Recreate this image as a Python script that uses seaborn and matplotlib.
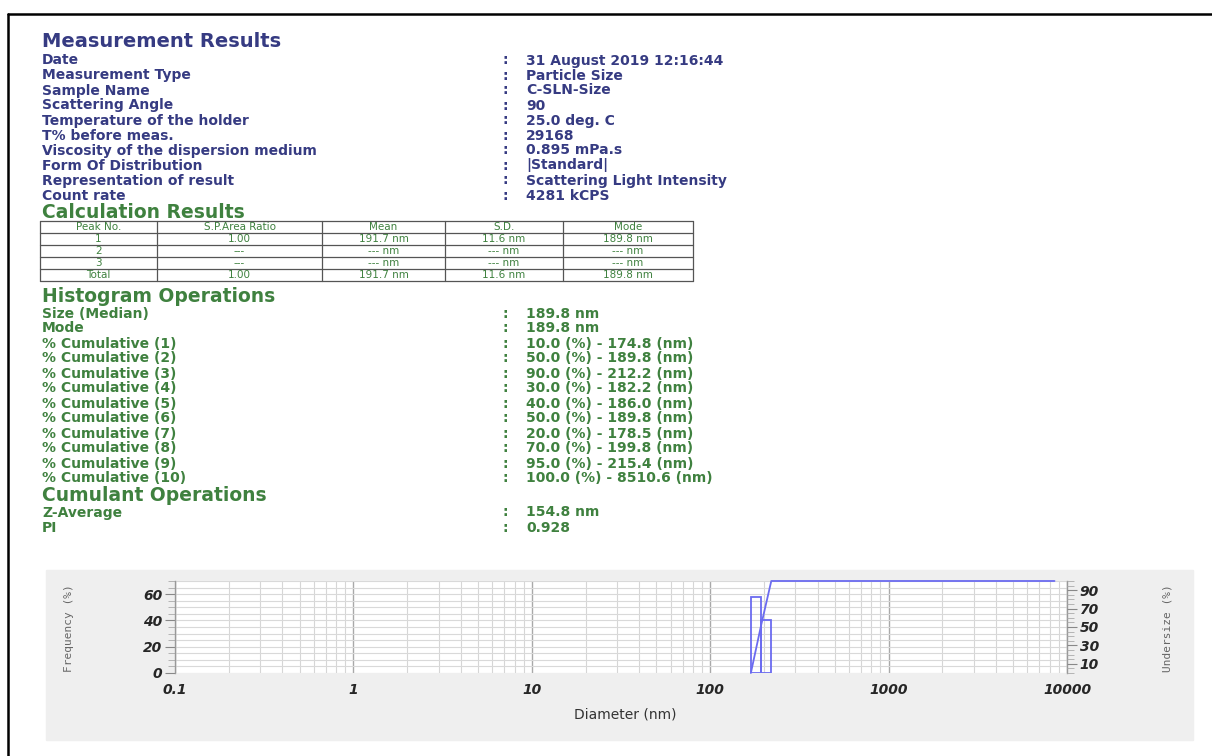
import numpy as np
import matplotlib
matplotlib.use("Agg")
import matplotlib.pyplot as plt
import seaborn as sns
from matplotlib.patches import Rectangle
from matplotlib.ticker import MultipleLocator, FixedLocator, NullFormatter

sns.set_style("white")
plt.rcParams["font.family"] = ["DejaVu Sans"]

NAVY = "#363b82"
GREEN = "#3f813f"
BLUE = "#6b6bf0"

# ---- report text ----
meas_labels = ["Date", "Measurement Type", "Sample Name", "Scattering Angle",
               "Temperature of the holder", "T% before meas.",
               "Viscosity of the dispersion medium", "Form Of Distribution",
               "Representation of result", "Count rate"]
meas_values = ["31 August 2019 12:16:44", "Particle Size", "C-SLN-Size", "90",
               "25.0 deg. C", "29168", "0.895 mPa.s", "|Standard|",
               "Scattering Light Intensity", "4281 kCPS"]

calc_header = ["Peak No.", "S.P.Area Ratio", "Mean", "S.D.", "Mode"]
calc_rows = [["1", "1.00", "191.7 nm", "11.6 nm", "189.8 nm"],
             ["2", "---", "--- nm", "--- nm", "--- nm"],
             ["3", "---", "--- nm", "--- nm", "--- nm"],
             ["Total", "1.00", "191.7 nm", "11.6 nm", "189.8 nm"]]

hist_labels = ["Size (Median)", "Mode", "% Cumulative (1)", "% Cumulative (2)",
               "% Cumulative (3)", "% Cumulative (4)", "% Cumulative (5)",
               "% Cumulative (6)", "% Cumulative (7)", "% Cumulative (8)",
               "% Cumulative (9)", "% Cumulative (10)"]
hist_values = ["189.8 nm", "189.8 nm", "10.0 (%) - 174.8 (nm)",
               "50.0 (%) - 189.8 (nm)", "90.0 (%) - 212.2 (nm)",
               "30.0 (%) - 182.2 (nm)", "40.0 (%) - 186.0 (nm)",
               "50.0 (%) - 189.8 (nm)", "20.0 (%) - 178.5 (nm)",
               "70.0 (%) - 199.8 (nm)", "95.0 (%) - 215.4 (nm)",
               "100.0 (%) - 8510.6 (nm)"]

cumulant_labels = ["Z-Average", "PI"]
cumulant_values = ["154.8 nm", "0.928"]

# ---- distribution ----
bin_edges = [169, 193, 220]
frequency = [58, 40]
cum_diam = [169, 193, 220, 8510.6]
cum_under = [0, 52, 100, 100]

x_ticks = [0.1, 1, 10, 100, 1000, 10000]
x_tick_labels = ["0.1", "1", "10", "100", "1000", "10000"]
freq_ticks = [0, 20, 40, 60]
under_ticks = [10, 30, 50, 70, 90]

W, H = 1212, 756
fig = plt.figure(figsize=(W / 100, H / 100), dpi=100)
fig.patch.set_facecolor("white")

bg = fig.add_axes([0, 0, 1, 1], zorder=0)
bg.set_xlim(0, W)
bg.set_ylim(H, 0)
bg.axis("off")

# frame on top and left
bg.plot([8, W], [14, 14], color="black", lw=1.8)
bg.plot([8, 8], [14, H], color="black", lw=1.8)

LX, CX, VX = 42, 505, 526
lab_kw = dict(fontsize=10, fontweight="bold", va="baseline")
head_kw = dict(fontsize=13.5, fontweight="bold", va="baseline")


def rows(labels, values, y0, color):
    for i, (lab, val) in enumerate(zip(labels, values)):
        y = y0 + 15 * i
        bg.text(LX, y, lab, color=color, **lab_kw)
        bg.text(CX, y, ":", color=color, ha="center", **lab_kw)
        bg.text(VX, y, val, color=color, **lab_kw)


bg.text(LX, 47, "Measurement Results", color=NAVY, fontsize=14,
        fontweight="bold", va="baseline")
rows(meas_labels, meas_values, 64.5, NAVY)

bg.text(LX, 217.5, "Calculation Results", color=GREEN, **head_kw)

# table
col_edges = [40, 157, 322, 445, 563, 693]
row_edges = [221, 233, 245, 257, 269, 281]
for x in col_edges:
    bg.plot([x, x], [row_edges[0], row_edges[-1]], color="#555555", lw=0.9)
for y in row_edges:
    bg.plot([col_edges[0], col_edges[-1]], [y, y], color="#555555", lw=0.9)
for r, row in enumerate([calc_header] + calc_rows):
    yc = (row_edges[r] + row_edges[r + 1]) / 2 + 0.5
    for c, cell in enumerate(row):
        xc = (col_edges[c] + col_edges[c + 1]) / 2
        bg.text(xc, yc, cell, color=GREEN, fontsize=7.5, ha="center",
                va="center")

bg.text(LX, 302, "Histogram Operations", color=GREEN, **head_kw)
rows(hist_labels, hist_values, 317.5, GREEN)

bg.text(LX, 501, "Cumulant Operations", color=GREEN, **head_kw)
rows(cumulant_labels, cumulant_values, 516.5, GREEN)

# chart panel
bg.add_patch(Rectangle((46, 570), 1147, 170, color="#efefef", zorder=0))
bg.text(69, 628, "Frequency (%)", rotation=90, family="DejaVu Sans Mono",
        fontsize=8, color="#666666", ha="center", va="center")
bg.text(1168, 628, "Undersize (%)", rotation=90, family="DejaVu Sans Mono",
        fontsize=8, color="#666666", ha="center", va="center")
bg.text(625, 715, "Diameter (nm)", fontsize=10, color="#333333",
        ha="center", va="center")

left, right, top, bottom = 175, 1067, 581, 673
ax = fig.add_axes([left / W, 1 - bottom / H, (right - left) / W,
                   (bottom - top) / H], zorder=2)
ax.set_facecolor("white")
ax.set_xscale("log")
ax.set_xlim(0.1, 10000)
ax.set_ylim(0, 70)

minors = [m * 10.0 ** e for e in range(-1, 4) for m in range(2, 10)]
ax.xaxis.set_major_locator(FixedLocator(x_ticks))
ax.xaxis.set_minor_locator(FixedLocator(minors))
ax.xaxis.set_minor_formatter(NullFormatter())
ax.set_xticklabels(x_tick_labels, fontweight="bold", fontstyle="italic",
                   fontsize=10)
ax.set_yticks(freq_ticks)
ax.set_yticklabels([str(t) for t in freq_ticks], fontweight="bold",
                   fontstyle="italic", fontsize=10)
ax.yaxis.set_minor_locator(MultipleLocator(5))

ax.grid(which="minor", axis="x", color="#d6d6d6", lw=0.8)
ax.grid(which="major", axis="x", color="#a9a9a9", lw=1.0)
ax.grid(which="both", axis="y", color="#d9d9d9", lw=0.8)
ax.set_axisbelow(True)

ax.tick_params(axis="x", which="major", direction="out", length=5,
               color="#666666", pad=2)
ax.tick_params(axis="x", which="minor", direction="inout", length=2.5,
               color="#555555")
ax.tick_params(axis="y", which="major", direction="out", length=7,
               color="#888888", pad=2)
ax.tick_params(axis="y", which="minor", direction="out", length=5,
               color="#aaaaaa")
for s in ["top", "bottom"]:
    ax.spines[s].set_visible(False)
for s in ["left", "right"]:
    ax.spines[s].set_color("#999999")
    ax.spines[s].set_linewidth(1)

ax.bar(bin_edges[:-1], frequency, width=np.diff(bin_edges), align="edge",
       fill=False, edgecolor=BLUE, lw=1.3, zorder=3)

ax2 = ax.twinx()
ax2.set_ylim(0, 100)
ax2.grid(False)
sns.lineplot(x=cum_diam, y=cum_under, ax=ax2, color=BLUE, lw=1.3,
             estimator=None, sort=False, clip_on=False)
ax2.set_yticks(under_ticks)
ax2.set_yticklabels([str(t) for t in under_ticks], fontweight="bold",
                    fontstyle="italic", fontsize=10)
ax2.yaxis.set_minor_locator(MultipleLocator(5))
ax2.tick_params(axis="y", which="major", direction="out", length=7,
                color="#888888", pad=2)
ax2.tick_params(axis="y", which="minor", direction="out", length=5,
                color="#aaaaaa")
ax2.set_ylabel("")
ax2.set_xlabel("")
for s in ax2.spines.values():
    s.set_visible(False)

fig.savefig("out.png", dpi=100)
